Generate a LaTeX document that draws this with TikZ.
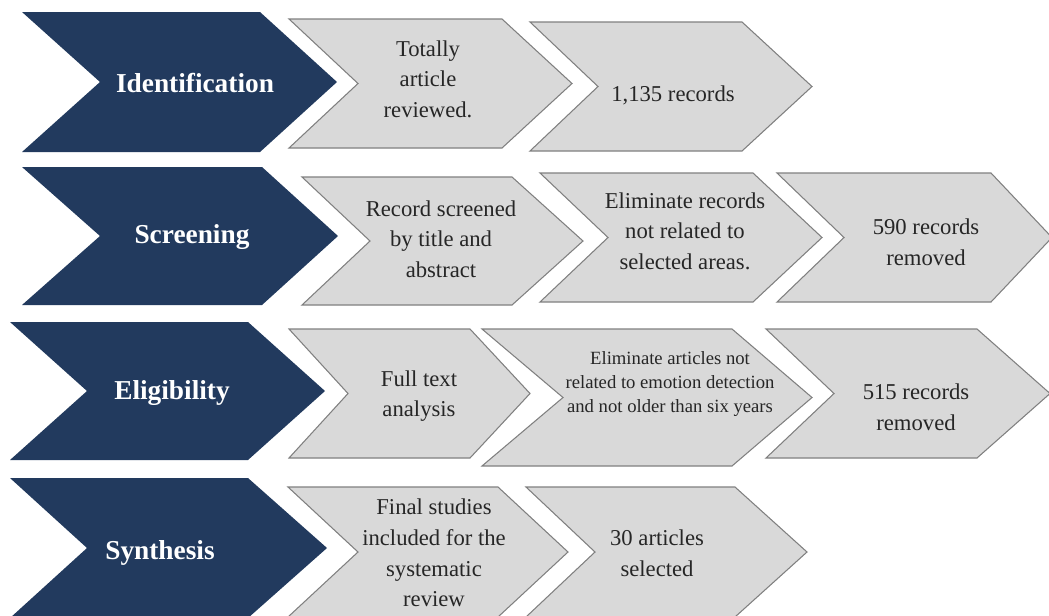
\documentclass[tikz,border=0pt]{standalone}
\usepackage{fontspec}
\setmainfont{Liberation Serif}
\usepackage{tikz}
\definecolor{navy}{RGB}{34,58,94}
\definecolor{lightgrey}{RGB}{217,217,217}
\definecolor{edgegrey}{RGB}{128,128,128}
\tikzset{
  phase/.style={fill=navy, draw=none},
  stepshape/.style={fill=lightgrey, draw=edgegrey, line width=0.8pt, line join=miter},
  phaselabel/.style={text=white, inner sep=0pt, font=\rmfamily\bfseries\fontsize{20.5}{24}\selectfont},
  steplabel/.style={align=center, inner sep=0pt, text=black!85, font=\rmfamily\fontsize{17}{23}\selectfont},
  smalllabel/.style={align=center, inner sep=0pt, text=black!85, font=\rmfamily\fontsize{14}{18}\selectfont}
}
% style, left, top right, tip, notch, top, bottom
\newcommand{\chevron}[7]{%
  \path[#1] (#2,#6) -- (#3,#6) -- (#4,{(#6+#7)/2}) -- (#3,#7) -- (#2,#7)
    -- (#5,{(#6+#7)/2}) -- cycle;}

\begin{document}
\begin{tikzpicture}[x=0.75pt, y=-0.75pt]
\useasboundingbox (0,0) rectangle (1049,615);

% identification
\chevron{phase}{22}{260}{337}{100}{12}{152}
\chevron{stepshape}{289}{502}{572}{358}{19}{148}
\chevron{stepshape}{530}{742}{812}{598}{22}{151}
\node[phaselabel] (ident) at (195,83) {Identification};
\node[steplabel] (total) at (428,79) {Totally\\article\\reviewed.};
\node[steplabel] (records) at (673,95) {1,135 records};

% screening
\chevron{phase}{22}{262}{338}{100}{167}{305}
\chevron{stepshape}{302}{512}{583}{370}{177}{305}
\chevron{stepshape}{540}{753}{822}{608}{173}{302}
\chevron{stepshape}{777}{991}{1052}{844}{173}{302}
\node[phaselabel] (screen) at (192,237) {Screening};
\node[steplabel] (screened) at (441,239) {Record screened\\by title and\\abstract};
\node[steplabel] (elimrec) at (685,231) {Eliminate records\\not related to\\selected areas.};
\node[steplabel] (removedA) at (926,242) {590 records\\removed};

% eligibility
\chevron{phase}{10}{248}{325}{87}{322}{460}
\chevron{stepshape}{289}{470}{530}{348}{329}{458}
\chevron{stepshape}{482}{732}{812}{563}{329}{466}
\chevron{stepshape}{766}{977}{1050}{834}{329}{458}
\node[phaselabel] (elig) at (172,393) {Eligibility};
\node[steplabel] (fulltext) at (419,396) {Full text\\analysis};
\node[smalllabel] (elimart) at (670,384) {Eliminate articles not\\related to emotion detection\\and not older than six years};
\node[steplabel] (removedB) at (916,407) {515 records\\removed};

% synthesis
\chevron{phase}{10}{248}{327}{87}{478}{618}
\chevron{stepshape}{288}{498}{568}{358}{487}{617}
\chevron{stepshape}{526}{735}{807}{595}{487}{617}
\node[phaselabel] (synth) at (160,553) {Synthesis};
\node[steplabel] (final) at (434,553) {Final studies\\included for the\\systematic\\review};
\node[steplabel] (selected) at (657,553) {30 articles\\selected};
\end{tikzpicture}
\end{document}
